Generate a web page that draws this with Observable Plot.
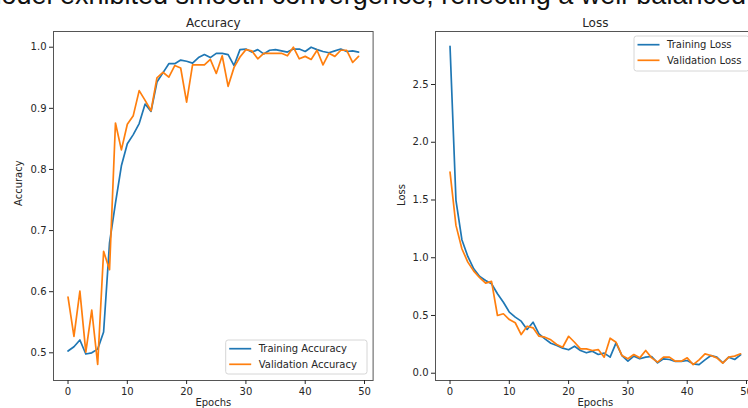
<!DOCTYPE html>
<html>
<head>
<meta charset="utf-8">
<script src="https://cdn.jsdelivr.net/npm/d3@7"></script>
<script src="https://cdn.jsdelivr.net/npm/@observablehq/plot@0.6"></script>
<style>
  html, body { margin: 0; padding: 0; background: #fff; overflow: hidden; }
  #fig { position: relative; width: 748px; height: 408px; overflow: hidden; font-family: "DejaVu Sans", sans-serif; }
  #fig > svg { position: absolute; top: 0; }
</style>
</head>
<body>
<div id="fig"></div>
<script>
// Training history over 50 epochs
const trainAcc = [0.503, 0.510, 0.521, 0.498, 0.500, 0.506, 0.534, 0.680, 0.745, 0.806,
                  0.842, 0.857, 0.875, 0.907, 0.895, 0.943, 0.958, 0.973, 0.973, 0.979,
                  0.977, 0.974, 0.983, 0.988, 0.983, 0.990, 0.990, 0.988, 0.970, 0.996,
                  0.997, 0.992, 0.996, 0.989, 0.995, 0.996, 0.994, 0.992, 0.997, 0.997,
                  0.993, 1.000, 0.996, 0.993, 0.991, 0.994, 0.997, 0.993, 0.994, 0.992];
const valAcc = [0.591, 0.527, 0.601, 0.501, 0.570, 0.481, 0.666, 0.636, 0.876, 0.832,
                0.874, 0.888, 0.929, 0.913, 0.896, 0.950, 0.959, 0.951, 0.970, 0.966,
                0.910, 0.971, 0.971, 0.971, 0.980, 0.957, 0.986, 0.936, 0.967, 0.984,
                0.996, 0.994, 0.981, 0.990, 0.990, 0.990, 0.990, 0.986, 1.000, 0.981,
                0.985, 0.980, 0.995, 0.971, 0.990, 0.985, 0.995, 0.995, 0.975, 0.985];
const trainLoss = [2.831, 1.497, 1.156, 1.011, 0.904, 0.838, 0.803, 0.775, 0.688, 0.615,
                   0.529, 0.486, 0.451, 0.379, 0.442, 0.341, 0.298, 0.260, 0.240, 0.217,
                   0.203, 0.234, 0.197, 0.177, 0.191, 0.162, 0.174, 0.139, 0.263, 0.153,
                   0.104, 0.148, 0.125, 0.139, 0.145, 0.090, 0.125, 0.119, 0.102, 0.102,
                   0.110, 0.081, 0.075, 0.116, 0.153, 0.139, 0.090, 0.139, 0.119, 0.159];
const valLoss = [1.742, 1.280, 1.078, 0.962, 0.884, 0.827, 0.780, 0.795, 0.500, 0.515,
                 0.465, 0.437, 0.335, 0.407, 0.393, 0.321, 0.312, 0.289, 0.249, 0.225,
                 0.320, 0.268, 0.211, 0.211, 0.197, 0.205, 0.139, 0.303, 0.268, 0.153,
                 0.125, 0.162, 0.133, 0.197, 0.133, 0.096, 0.139, 0.139, 0.104, 0.104,
                 0.133, 0.075, 0.116, 0.168, 0.153, 0.133, 0.087, 0.139, 0.148, 0.168];

const epochTicks = [0, 10, 20, 30, 40, 50];
const accTicks = [0.5, 0.6, 0.7, 0.8, 0.9, 1.0];
const lossTicks = [0.0, 0.5, 1.0, 1.5, 2.0, 2.5];

const headline = "model exhibited smooth convergence, reflecting a well-balanced";

const BLUE = "#1f77b4", ORANGE = "#ff7f0e", INK = "#262626";

const toRows = (values) => values.map((v, i) => ({epoch: i, value: v}));

function panel({title, ylabel, train, val, names, yDomain, yTicks, width, marginLeft, ylabelDx, legend}) {
  const svg = Plot.plot({
    width, height: 408,
    marginLeft, marginRight: 7.4, marginTop: 31, marginBottom: 28,
    style: {fontFamily: "DejaVu Sans, sans-serif", fontSize: "10px", color: INK, background: "transparent"},
    x: {domain: [-2.45, 51.45]},
    y: {domain: yDomain},
    marks: [
      Plot.line(toRows(train), {x: "epoch", y: "value", stroke: BLUE, strokeWidth: 1.7}),
      Plot.line(toRows(val), {x: "epoch", y: "value", stroke: ORANGE, strokeWidth: 1.7}),
      Plot.frame({stroke: "#555", strokeWidth: 1}),
      Plot.axisX({ticks: epochTicks, tickSize: 4, tickPadding: 3, fontSize: 10, label: null, tickFormat: d3.format("d")}),
      Plot.axisY({ticks: yTicks, tickSize: 4, tickPadding: 3, fontSize: 10, label: null, tickFormat: d3.format(".1f")}),
      Plot.text([title], {frameAnchor: "top", dy: -13, fontSize: 12, fill: INK}),
      Plot.text([ylabel], {frameAnchor: "left", dx: ylabelDx, rotate: -90, fontSize: 10, fill: INK}),
      Plot.text(["Epochs"], {frameAnchor: "bottom", dy: 25, fontSize: 10, fill: INK})
    ]
  });

  // legend box with line samples
  const g = d3.select(svg).append("g")
    .attr("font-family", "DejaVu Sans, sans-serif")
    .attr("font-size", 10)
    .attr("text-anchor", "start");
  g.append("rect")
    .attr("x", legend.x).attr("y", legend.y)
    .attr("width", legend.w).attr("height", legend.h)
    .attr("rx", 2.5).attr("fill", "#fff").attr("fill-opacity", 0.85)
    .attr("stroke", "#d6d6d6").attr("stroke-width", 1);
  [[names[0], BLUE], [names[1], ORANGE]].forEach(([label, color], i) => {
    const cy = legend.y + 8.7 + i * 15.6;
    g.append("line")
      .attr("x1", legend.x + 3.5).attr("x2", legend.x + 25.5)
      .attr("y1", cy).attr("y2", cy)
      .attr("stroke", color).attr("stroke-width", 1.7);
    g.append("text")
      .attr("x", legend.x + 33).attr("y", cy).attr("dy", "0.35em")
      .attr("text-anchor", "start")
      .attr("fill", INK).text(label);
  });
  return svg;
}

const fig = document.getElementById("fig");

// headline text running above the figure
const head = d3.select(fig).append("svg")
  .attr("width", 748).attr("height", 20).style("left", "0px");
head.append("text")
  .attr("x", -21).attr("y", 3.5)
  .attr("font-family", "Liberation Sans, Arial, sans-serif")
  .attr("font-size", 27).attr("fill", "#111")
  .text(headline);

const accSvg = panel({
  title: "Accuracy", ylabel: "Accuracy",
  train: trainAcc, val: valAcc,
  names: ["Training Accuracy", "Validation Accuracy"],
  yDomain: [0.4547, 1.0257], yTicks: accTicks,
  width: 380, marginLeft: 53, ylabelDx: -35,
  legend: {x: 225.7, y: 340, w: 141.3, h: 34}
});
accSvg.style.left = "0px";
fig.appendChild(accSvg);

const lossSvg = panel({
  title: "Loss", ylabel: "Loss",
  train: trainLoss, val: valLoss,
  names: ["Training Loss", "Validation Loss"],
  yDomain: [-0.063, 2.959], yTicks: lossTicks,
  width: 382, marginLeft: 55, ylabelDx: -33.3,
  legend: {x: 254, y: 36, w: 115, h: 35}
});
lossSvg.style.left = "380px";
fig.appendChild(lossSvg);
</script>
</body>
</html>
